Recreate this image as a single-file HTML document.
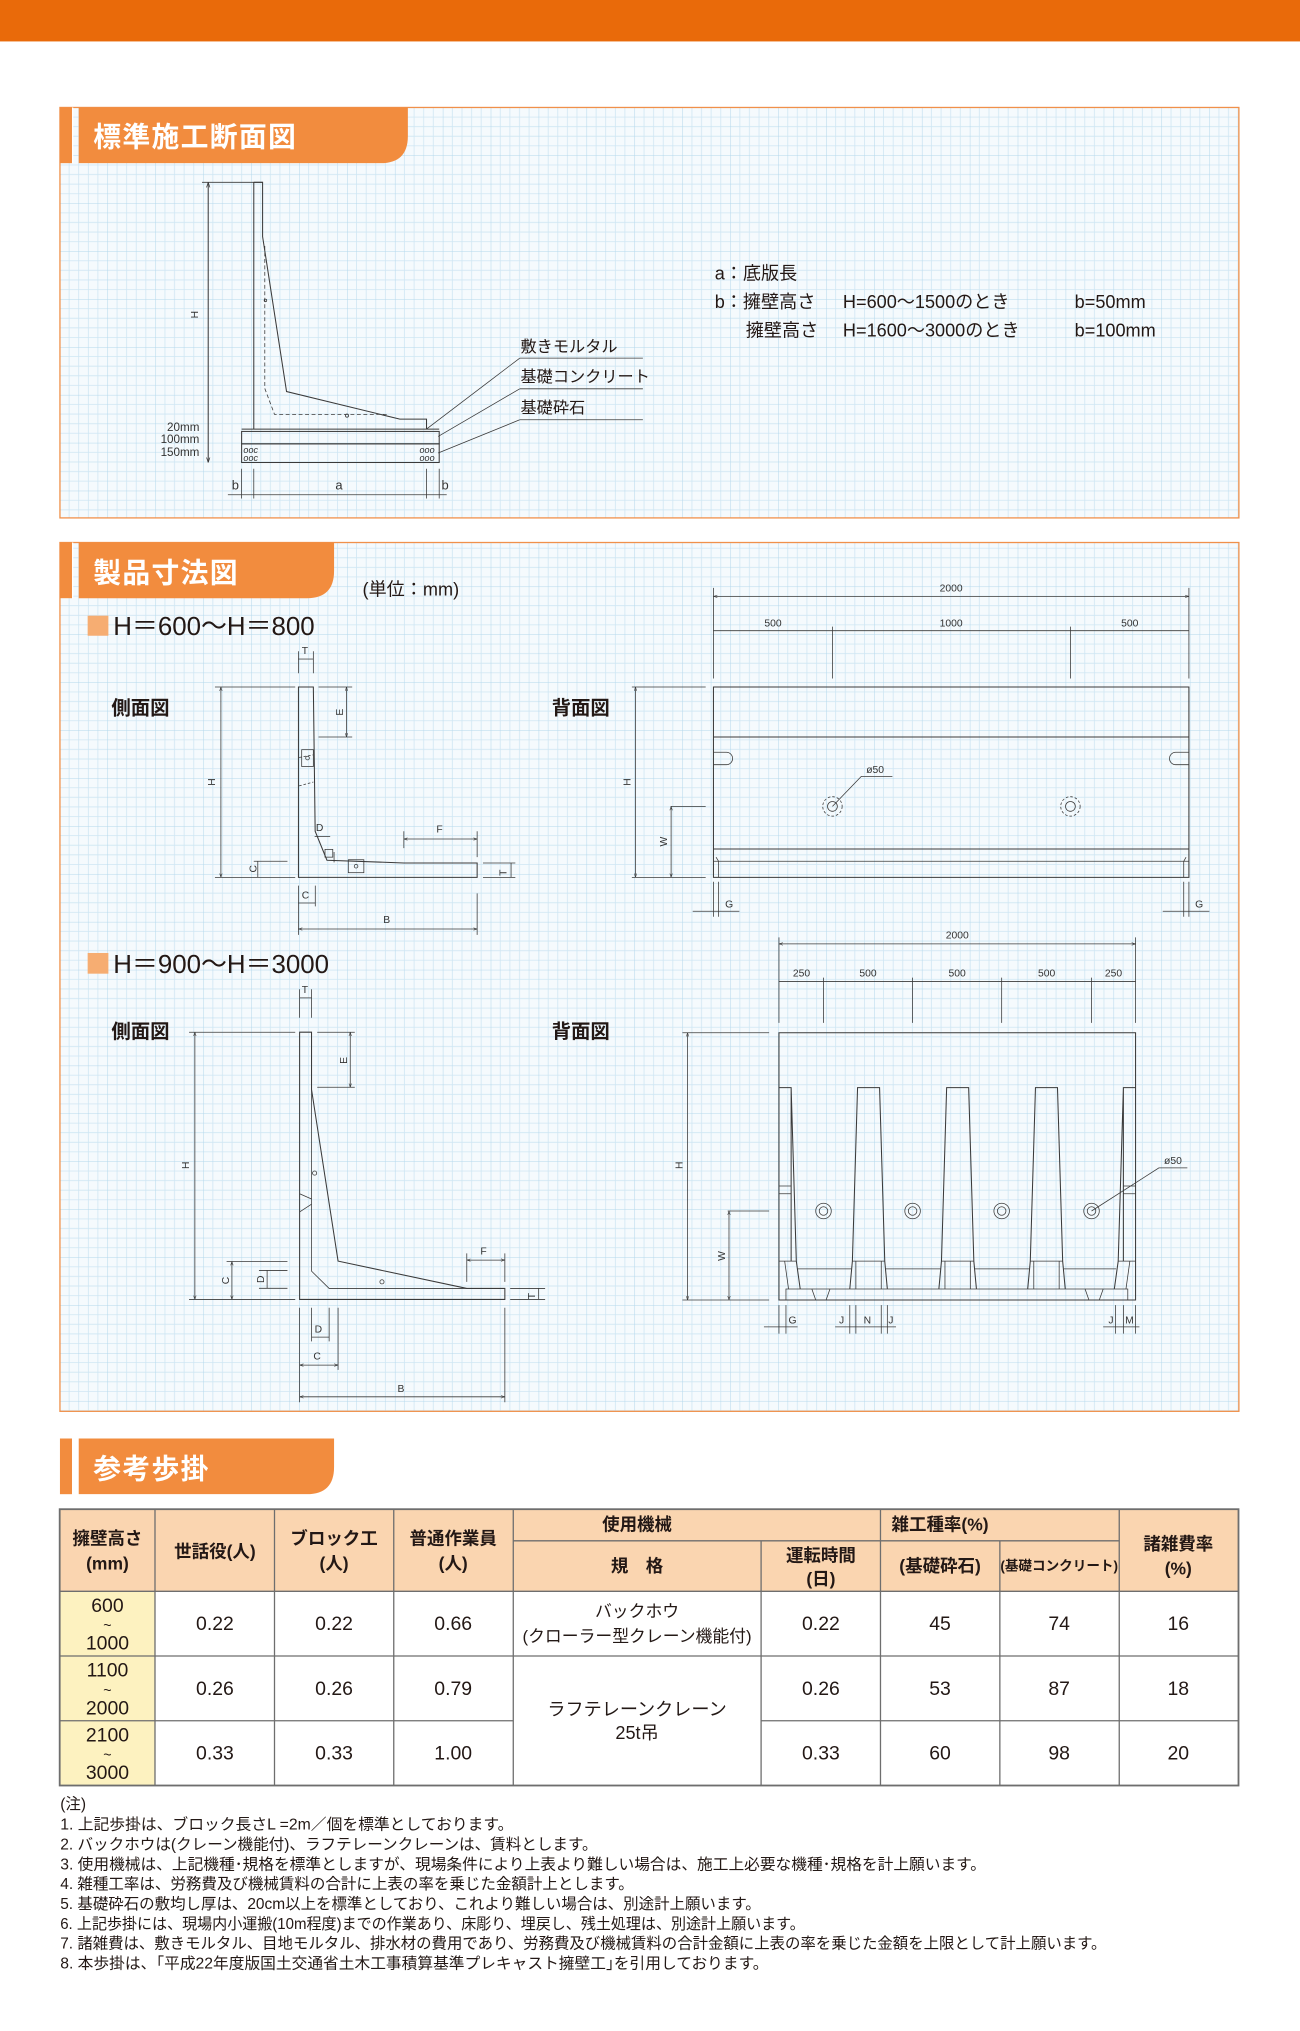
<!DOCTYPE html>
<html><head><meta charset="utf-8">
<style>
html,body{margin:0;padding:0;background:#fff;}
svg{display:block;}
text{font-family:"Liberation Sans","Noto Sans CJK JP",sans-serif;fill:#231815;}
.d{stroke:#3a3a3a;stroke-width:.8;fill:none;}
.t{stroke:#3a3a3a;stroke-width:.6;fill:none;}
.lbl{font-size:8px;fill:#333;}
.th{font-size:13.5px;font-weight:bold;text-anchor:middle;}
.td{font-size:15px;text-anchor:middle;}
.nt{font-size:12px;}
</style></head><body>
<svg width="1300" height="2031" viewBox="0 0 1004 1568.6" preserveAspectRatio="none" xmlns="http://www.w3.org/2000/svg">
<defs>
<pattern id="g" x="46" y="83" width="37" height="37" patternUnits="userSpaceOnUse">
<rect width="37" height="37" fill="#f5fafd"/>
<path d="M7.4 0V37M14.8 0V37M22.2 0V37M29.6 0V37M0 7.4H37M0 14.8H37M0 22.2H37M0 29.6H37" stroke="#cfe6f3" stroke-width=".6"/>
<path d="M0 0V37M0 0H37" stroke="#b4d8ec" stroke-width=".8"/>
</pattern>
<marker id="a" viewBox="0 0 6 6" refX="6" refY="3" markerWidth="5" markerHeight="5" orient="auto-start-reverse"><path d="M0 1L6 3L0 5" fill="none" stroke="#333" stroke-width=".8"/></marker>
</defs>
<rect x="0" y="0" width="1004" height="32" fill="#e96a0a"/>

<!-- SECTION 1 -->
<rect x="46.3" y="83" width="910.5" height="317" fill="url(#g)" stroke="#f0904a" stroke-width="1"/>
<rect x="46.3" y="83" width="9.3" height="43" fill="#f28c3e"/>
<rect x="55.6" y="83" width="1" height="43" fill="#fff"/>
<path d="M60.8 83H315V105Q315 126 294 126H60.8Z" fill="#f28c3e"/>
<text x="72" y="113" style="font-size:21.5px;fill:#fff;font-weight:bold;letter-spacing:1px">標準施工断面図</text>

<line class="d" x1="160.8" y1="140.8" x2="160.8" y2="357.2" marker-start="url(#a)" marker-end="url(#a)"/>
<line class="t" x1="156" y1="140.8" x2="202.8" y2="140.8"/>
<text class="lbl" x="150" y="240" transform="rotate(-90 153 240)" text-anchor="middle">H</text>
<path class="d" d="M196 140.8V331.4M196 140.8H202.8V182.7L221.3 302.4L308.8 323.7H329.4V331.4"/>
<path class="t" d="M204.5 190V300L212 320H300" stroke-dasharray="3 2"/>
<circle cx="268" cy="321" r="1.2" class="t"/>
<circle cx="205" cy="232" r="1" class="t"/>
<line class="d" x1="186.6" y1="331.4" x2="339.2" y2="331.4" stroke-width="1.2"/>
<rect class="d" x="186.6" y="333.2" width="152.6" height="9.6"/>
<rect class="d" x="186.6" y="342.8" width="152.6" height="14.4"/>
<text x="188" y="350" style="font-size:7px;font-style:italic;fill:#333">ooc</text>
<text x="188" y="356" style="font-size:7px;font-style:italic;fill:#333">ooc</text>
<text x="324" y="350" style="font-size:7px;font-style:italic;fill:#333">ooo</text>
<text x="324" y="356" style="font-size:7px;font-style:italic;fill:#333">ooo</text>
<text class="lbl" x="154" y="333" text-anchor="end" style="font-size:9px">20mm</text>
<text class="lbl" x="154" y="342" text-anchor="end" style="font-size:9px">100mm</text>
<text class="lbl" x="154" y="352" text-anchor="end" style="font-size:9px">150mm</text>
<path class="t" d="M186.6 362V385M196 362V385M329.4 362V385M339.2 362V385"/>
<line class="t" x1="176" y1="382.1" x2="345" y2="382.1"/>
<text class="lbl" x="179" y="378" style="font-size:10px">b</text>
<text class="lbl" x="259" y="378" style="font-size:10px">a</text>
<text class="lbl" x="341" y="378" style="font-size:10px">b</text>
<path class="t" d="M401.4 276.6H496.5M401.4 300.3H496.5M401.4 324.2H496.5"/>
<path class="t" d="M401.4 276.6L329.4 331.4M401.4 300.3L338.4 337.1M401.4 324.2L338.4 349.9"/>
<text x="402" y="272" style="font-size:12.5px">敷きモルタル</text>
<text x="402" y="295" style="font-size:12.5px">基礎コンクリート</text>
<text x="402" y="319" style="font-size:12.5px">基礎砕石</text>
<g style="font-size:14px">
<text x="552" y="216">a：底版長</text>
<text x="552" y="238">b：擁壁高さ</text>
<text x="651" y="238">H=600～1500のとき</text>
<text x="830" y="238">b=50mm</text>
<text x="576" y="260">擁壁高さ</text>
<text x="651" y="260">H=1600～3000のとき</text>
<text x="830" y="260">b=100mm</text>
</g>

<!-- SECTION 2 -->
<rect x="46.3" y="419" width="910.5" height="671" fill="url(#g)" stroke="#f0904a" stroke-width="1"/>
<rect x="46.3" y="419" width="9.3" height="43" fill="#f28c3e"/>
<rect x="55.6" y="419" width="1" height="43" fill="#fff"/>
<path d="M60.8 419H258V441Q258 462 237 462H60.8Z" fill="#f28c3e"/>
<text x="72" y="450" style="font-size:21.5px;fill:#fff;font-weight:bold;letter-spacing:1px">製品寸法図</text>
<text x="280" y="460" style="font-size:14px">(単位：mm)</text>
<rect x="67.7" y="475.5" width="16" height="15.5" fill="#f6ad72"/>
<text x="87.5" y="490.5" style="font-size:20px">H＝600～H＝800</text>
<text x="86" y="552" style="font-size:15px;font-weight:bold">側面図</text>
<text x="426" y="552" style="font-size:15px;font-weight:bold">背面図</text>

<!-- side view 1 -->
<path class="d" d="M230.5 530.6V677.6H368.5V666.5H311.9L252.5 664.4L243.4 642L242 530.6Z"/>
<path class="t" d="M231 585L242 583M231 607L242 604" stroke-dasharray="2 1.5"/>
<rect class="t" x="233" y="579" width="9" height="13"/><circle class="t" cx="237.5" cy="585.5" r="1.4"/>
<rect class="t" x="269" y="664" width="12" height="10"/><circle class="t" cx="275" cy="669" r="1.4"/>
<line class="t" x1="170.6" y1="530.6" x2="170.6" y2="677.6" marker-start="url(#a)" marker-end="url(#a)"/>
<path class="t" d="M166 530.6H228M166 677.6H228M246 530.6H272M246 569.2H272M196 665.2H222M196 677.6H222"/>
<text class="lbl" x="163" y="607" transform="rotate(-90 163 604)" text-anchor="middle">H</text>
<line class="t" x1="267.6" y1="530.6" x2="267.6" y2="569.2" marker-start="url(#a)" marker-end="url(#a)"/>
<text class="lbl" x="262" y="553" transform="rotate(-90 262 550)" text-anchor="middle">E</text>
<path class="t" d="M230.5 503V520M242 503V520"/>
<line class="t" x1="230.5" y1="509" x2="242" y2="509"/>
<text class="lbl" x="233" y="505">T</text>
<line class="t" x1="199.1" y1="665.2" x2="199.1" y2="677.6"/>
<text class="lbl" x="195" y="674" transform="rotate(-90 195 671)" text-anchor="middle">C</text>
<line class="t" x1="243" y1="646" x2="255" y2="646"/><text class="lbl" x="244" y="642">D</text>
<line class="t" x1="258" y1="658" x2="258" y2="666"/><rect class="t" x="251" y="656" width="6" height="6"/>
<path class="t" d="M311.9 642V655M368.5 642V662"/>
<line class="t" x1="311.9" y1="648" x2="368.5" y2="648" marker-start="url(#a)" marker-end="url(#a)"/>
<text class="lbl" x="337" y="643">F</text>
<path class="t" d="M373 666.5H398M373 677.6H398"/>
<line class="t" x1="394.7" y1="666.5" x2="394.7" y2="677.6"/>
<text class="lbl" x="386" y="675" transform="rotate(-90 388 672)" text-anchor="middle">T</text>
<path class="t" d="M230.5 684V700M243.5 684V700M230.5 690V722M368.5 690V722"/>
<line class="t" x1="230.5" y1="697.4" x2="243.5" y2="697.4"/>
<text class="lbl" x="233" y="694">C</text>
<line class="t" x1="230.5" y1="717.5" x2="368.5" y2="717.5" marker-start="url(#a)" marker-end="url(#a)"/>
<text class="lbl" x="296" y="713">B</text>

<!-- back view 1 -->
<path class="d" d="M551 530.6H918.2V677.6H551ZM551 569.2H918.2M551 655.7H918.2"/>
<path class="t" d="M551 665.2H918.2M555 665.2V677.6M914.2 665.2V677.6M553 662L555 665.2M916 662L914.2 665.2"/>
<path class="t" d="M551 581H561A4.8 4.8 0 0 1 561 590.6H551M918.2 581H908A4.8 4.8 0 0 0 908 590.6H918.2"/>
<circle class="t" cx="642.9" cy="622.8" r="3.8"/><circle class="t" cx="642.9" cy="622.8" r="7.5" stroke-dasharray="2 1.5"/>
<circle class="t" cx="826.7" cy="622.8" r="3.8"/><circle class="t" cx="826.7" cy="622.8" r="7.5" stroke-dasharray="2 1.5"/>
<path class="t" d="M642.9 622.8L665.2 599.6H689.2"/>
<text class="lbl" x="669" y="597">ø50</text>
<path class="t" d="M551 454V524M918.2 454V524M642.9 484V524M826.7 484V524"/>
<line class="t" x1="551" y1="460.6" x2="918.2" y2="460.6" marker-start="url(#a)" marker-end="url(#a)"/>
<line class="t" x1="551" y1="487.1" x2="918.2" y2="487.1"/>
<text class="lbl" x="734.6" y="457" text-anchor="middle">2000</text>
<text class="lbl" x="597" y="484" text-anchor="middle">500</text>
<text class="lbl" x="734.6" y="484" text-anchor="middle">1000</text>
<text class="lbl" x="872.5" y="484" text-anchor="middle">500</text>
<line class="t" x1="490.8" y1="530.6" x2="490.8" y2="677.6" marker-start="url(#a)" marker-end="url(#a)"/>
<path class="t" d="M488 530.6H545M488 677.6H545M518 622.8H545"/>
<line class="t" x1="518.3" y1="622.8" x2="518.3" y2="677.6" marker-start="url(#a)" marker-end="url(#a)"/>
<text class="lbl" x="484" y="607" transform="rotate(-90 484 604)" text-anchor="middle">H</text>
<text class="lbl" x="512" y="653" transform="rotate(-90 512 650)" text-anchor="middle">W</text>
<path class="t" d="M551 681V708M555 681V708M914.2 681V708M918.2 681V708M535 703.8H571M898 703.8H934"/>
<text class="lbl" x="560" y="701">G</text>
<text class="lbl" x="923" y="701">G</text>

<!-- H=900 -->
<rect x="67.7" y="736" width="16" height="16" fill="#f6ad72"/>
<text x="87.5" y="751.5" style="font-size:20px">H＝900～H＝3000</text>
<text x="86" y="801.5" style="font-size:15px;font-weight:bold">側面図</text>
<text x="426" y="801.5" style="font-size:15px;font-weight:bold">背面図</text>

<!-- side view 2 -->
<path class="d" d="M231.4 797.2V1003.6H389.9V995.1H360.5L261.1 974L240.6 841.5V797.2Z"/>
<path class="t" d="M240.6 841.5V981.7L254.2 995.1H360.5"/>
<path class="t" d="M231.4 922L240.6 926M231.4 936L240.6 930"/>
<circle class="t" cx="243" cy="906" r="1.6"/><circle class="t" cx="295" cy="990" r="1.6"/>
<line class="t" x1="150.5" y1="797.2" x2="150.5" y2="1003.6" marker-start="url(#a)" marker-end="url(#a)"/>
<path class="t" d="M146 797.2H228M146 1003.6H228M245 797.2H274M245 839.7H274M175 974.3H222M200 981.2H222M200 995H222"/>
<text class="lbl" x="143" y="903" transform="rotate(-90 143 900)" text-anchor="middle">H</text>
<line class="t" x1="270.5" y1="797.2" x2="270.5" y2="839.7" marker-start="url(#a)" marker-end="url(#a)"/>
<text class="lbl" x="265" y="822" transform="rotate(-90 265 819)" text-anchor="middle">E</text>
<path class="t" d="M231.4 764V786M240.6 764V786"/>
<line class="t" x1="231.4" y1="770.7" x2="240.6" y2="770.7"/>
<text class="lbl" x="233" y="767">T</text>
<line class="t" x1="179.1" y1="974.3" x2="179.1" y2="1003.6" marker-start="url(#a)" marker-end="url(#a)"/>
<text class="lbl" x="174" y="992" transform="rotate(-90 174 989)" text-anchor="middle">C</text>
<line class="t" x1="206.3" y1="981.2" x2="206.3" y2="995"/>
<text class="lbl" x="201" y="991" transform="rotate(-90 201 988)" text-anchor="middle">D</text>
<path class="t" d="M360.5 968V990M389.9 968V990"/>
<line class="t" x1="360.5" y1="973.2" x2="389.9" y2="973.2" marker-start="url(#a)" marker-end="url(#a)"/>
<text class="lbl" x="371" y="969">F</text>
<path class="t" d="M394 995.1H421M394 1003.6H421"/>
<line class="t" x1="416" y1="995.1" x2="416" y2="1003.6"/>
<text class="lbl" x="408" y="1002" transform="rotate(-90 410 999)" text-anchor="middle">T</text>
<path class="t" d="M231.4 1010V1083M240.6 1010V1036M254.2 1010V1036M261.1 1010V1058M389.9 1010V1083"/>
<line class="t" x1="240.6" y1="1032.7" x2="254.2" y2="1032.7"/>
<text class="lbl" x="243" y="1029">D</text>
<line class="t" x1="231.4" y1="1054.3" x2="261.1" y2="1054.3" marker-start="url(#a)" marker-end="url(#a)"/>
<text class="lbl" x="242" y="1050">C</text>
<line class="t" x1="231.4" y1="1078.8" x2="389.9" y2="1078.8" marker-start="url(#a)" marker-end="url(#a)"/>
<text class="lbl" x="307" y="1075">B</text>

<!-- back view 2 -->
<path class="d" d="M601.6 797.6H877V1004H601.6Z"/>
<path class="t" d="M607 1004V995.5H871V1004"/>
<g class="d">
<path d="M601.6 840H611L615 974L618 995.5M611 840V974"/>
<path d="M877 840H867.6L863.6 974L860.6 995.5M867.6 840V974"/>
<path d="M656.3 995.5L658.3 974L662.3 840H679.3L683.3 974L685.3 995.5"/>
<path d="M725.1 995.5L727.1 974L731.1 840H748.1L752.1 974L754.1 995.5"/>
<path d="M793.7 995.5L795.7 974L799.7 840H816.7L820.7 974L822.7 995.5"/>
</g>
<g class="t">
<path d="M658.3 974H683.3M661 974V995.5M680.6 974V995.5"/>
<path d="M727.1 974H752.1M729.8 974V995.5M749.4 974V995.5"/>
<path d="M795.7 974H820.7M798.4 974V995.5M818 974V995.5"/>
<path d="M601.6 974H615M863.6 974H877M606 974L609 995.5M872.6 974L869.6 995.5"/>
<path d="M616 980H657.5M684.2 980H726.3M753 980H794.9M821.7 980H862"/>
<path d="M601.6 916H611M601.6 922H611M867.6 916H877M867.6 922H877"/>
<path d="M627 995.5L630 1004H638L641 995.5M838 995.5L841 1004H849L852 995.5"/>
</g>
<g class="t">
<circle cx="636" cy="935.3" r="3.3"/><circle cx="636" cy="935.3" r="6"/>
<circle cx="704.8" cy="935.3" r="3.3"/><circle cx="704.8" cy="935.3" r="6"/>
<circle cx="773.6" cy="935.3" r="3.3"/><circle cx="773.6" cy="935.3" r="6"/>
<circle cx="843" cy="935.3" r="3.3"/><circle cx="843" cy="935.3" r="6"/>
<path d="M843 935.3L895 902H917"/>
</g>
<text class="lbl" x="899" y="899">ø50</text>
<path class="t" d="M601.6 724V790M877 724V790M636 755V790M704.8 755V790M773.6 755V790M843 755V790"/>
<line class="t" x1="601.6" y1="729" x2="877" y2="729" marker-start="url(#a)" marker-end="url(#a)"/>
<line class="t" x1="601.6" y1="758" x2="877" y2="758"/>
<text class="lbl" x="739.3" y="725" text-anchor="middle">2000</text>
<text class="lbl" x="619" y="754" text-anchor="middle">250</text>
<text class="lbl" x="670.4" y="754" text-anchor="middle">500</text>
<text class="lbl" x="739.2" y="754" text-anchor="middle">500</text>
<text class="lbl" x="808.3" y="754" text-anchor="middle">500</text>
<text class="lbl" x="860" y="754" text-anchor="middle">250</text>
<line class="t" x1="531" y1="797.6" x2="531" y2="1004" marker-start="url(#a)" marker-end="url(#a)"/>
<path class="t" d="M527 797.6H594M527 1004H594M562 935.3H594"/>
<line class="t" x1="563" y1="935.3" x2="563" y2="1004" marker-start="url(#a)" marker-end="url(#a)"/>
<text class="lbl" x="524" y="903" transform="rotate(-90 524 900)" text-anchor="middle">H</text>
<text class="lbl" x="557" y="973" transform="rotate(-90 557 970)" text-anchor="middle">W</text>
<path class="t" d="M601.6 1008V1030M607 1008V1030M656.3 1008V1030M661 1008V1030M680.6 1008V1030M685.3 1008V1030M861.6 1008V1030M867.6 1008V1030M877 1008V1030M590 1024.8H616M645 1024.8H692M852 1024.8H880"/>
<text class="lbl" x="609" y="1022">G</text>
<text class="lbl" x="648" y="1022">J</text>
<text class="lbl" x="667" y="1022">N</text>
<text class="lbl" x="686" y="1022">J</text>
<text class="lbl" x="856" y="1022">J</text>
<text class="lbl" x="869" y="1022">M</text>

<!-- SECTION 3 -->
<rect x="46.3" y="1111" width="9.3" height="43" fill="#f28c3e"/>
<path d="M60.8 1111H258V1133Q258 1154 237 1154H60.8Z" fill="#f28c3e"/>
<text x="72" y="1142" style="font-size:21.5px;fill:#fff;font-weight:bold;letter-spacing:1px">参考歩掛</text>

<rect x="46.1" y="1165.6" width="910.4" height="63.4" fill="#fad5b0"/>
<rect x="46.1" y="1229" width="73.6" height="150" fill="#fdf2c0"/>
<g stroke="#6e6e6e" stroke-width="1" fill="none">
<rect x="46.1" y="1165.6" width="910.4" height="213.4" stroke-width="1.4"/>
<path d="M119.7 1165.6V1379M212 1165.6V1379M304.1 1165.6V1379M396.4 1165.6V1379M864.4 1165.6V1379M680 1165.6V1229M587.8 1190V1379M772.2 1190V1379"/>
<path d="M396.4 1190H864.4M46.1 1229H956.5M46.1 1279H956.5M46.1 1329H396.4M587.8 1329H956.5"/>
<path d="M680 1229V1379"/>
</g>
<text class="th" x="83" y="1193">擁壁高さ</text><text class="th" x="83" y="1212">(mm)</text>
<text class="th" x="166" y="1203">世話役(人)</text>
<text class="th" x="258" y="1193">ブロック工</text><text class="th" x="258" y="1212">(人)</text>
<text class="th" x="350" y="1193">普通作業員</text><text class="th" x="350" y="1212">(人)</text>
<text class="th" x="492" y="1182">使用機械</text>
<text class="th" x="492" y="1214">規　格</text>
<text class="th" x="634" y="1206">運転時間</text><text class="th" x="634" y="1224">(日)</text>
<text class="th" x="726" y="1182">雑工種率(%)</text>
<text class="th" x="726" y="1214">(基礎砕石)</text>
<text class="th" x="818" y="1213" style="font-size:10.5px">(基礎コンクリート)</text>
<text class="th" x="910" y="1197">諸雑費率</text><text class="th" x="910" y="1216">(%)</text>
<g class="td">
<text x="83" y="1245">600</text><text x="83" y="1259" style="font-size:11px">~</text><text x="83" y="1274">1000</text>
<text x="83" y="1295">1100</text><text x="83" y="1309" style="font-size:11px">~</text><text x="83" y="1324">2000</text>
<text x="83" y="1345">2100</text><text x="83" y="1359" style="font-size:11px">~</text><text x="83" y="1374">3000</text>
</g>
<g class="td">
<text x="166" y="1259">0.22</text><text x="258" y="1259">0.22</text><text x="350" y="1259">0.66</text><text x="634" y="1259">0.22</text><text x="726" y="1259">45</text><text x="818" y="1259">74</text><text x="910" y="1259">16</text>
<text x="166" y="1309">0.26</text><text x="258" y="1309">0.26</text><text x="350" y="1309">0.79</text><text x="634" y="1309">0.26</text><text x="726" y="1309">53</text><text x="818" y="1309">87</text><text x="910" y="1309">18</text>
<text x="166" y="1359">0.33</text><text x="258" y="1359">0.33</text><text x="350" y="1359">1.00</text><text x="634" y="1359">0.33</text><text x="726" y="1359">60</text><text x="818" y="1359">98</text><text x="910" y="1359">20</text>
</g>
<text x="492" y="1249" style="font-size:13px;text-anchor:middle">バックホウ</text>
<text x="492" y="1268" style="font-size:13px;text-anchor:middle">(クローラー型クレーン機能付)</text>
<text x="492" y="1325" style="font-size:14px;text-anchor:middle">ラフテレーンクレーン</text>
<text x="492" y="1343" style="font-size:14px;text-anchor:middle">25t吊</text>

<g class="nt">
<text x="46.5" y="1397">(注)</text>
<text x="46.5" y="1413" textLength="350" lengthAdjust="spacingAndGlyphs">1. 上記歩掛は、ブロック長さL =2m／個を標準としております。</text>
<text x="46.5" y="1428.5" textLength="415" lengthAdjust="spacingAndGlyphs">2. バックホウは(クレーン機能付)、ラフテレーンクレーンは、賃料とします。</text>
<text x="46.5" y="1444" textLength="715" lengthAdjust="spacingAndGlyphs">3. 使用機械は、上記機種･規格を標準としますが、現場条件により上表より難しい場合は、施工上必要な機種･規格を計上願います。</text>
<text x="46.5" y="1459" textLength="443" lengthAdjust="spacingAndGlyphs">4. 雑種工率は、労務費及び機械賃料の合計に上表の率を乗じた金額計上とします。</text>
<text x="46.5" y="1474.5" textLength="541" lengthAdjust="spacingAndGlyphs">5. 基礎砕石の敷均し厚は、20cm以上を標準としており、これより難しい場合は、別途計上願います。</text>
<text x="46.5" y="1490" textLength="575" lengthAdjust="spacingAndGlyphs">6. 上記歩掛には、現場内小運搬(10m程度)までの作業あり、床彫り、埋戻し、残土処理は、別途計上願います。</text>
<text x="46.5" y="1505" textLength="808" lengthAdjust="spacingAndGlyphs">7. 諸雑費は、敷きモルタル、目地モルタル、排水材の費用であり、労務費及び機械賃料の合計金額に上表の率を乗じた金額を上限として計上願います。</text>
<text x="46.5" y="1520.5" textLength="547" lengthAdjust="spacingAndGlyphs">8. 本歩掛は、｢平成22年度版国土交通省土木工事積算基準プレキャスト擁壁工｣を引用しております。</text>
</g>
</svg>
</body></html>
